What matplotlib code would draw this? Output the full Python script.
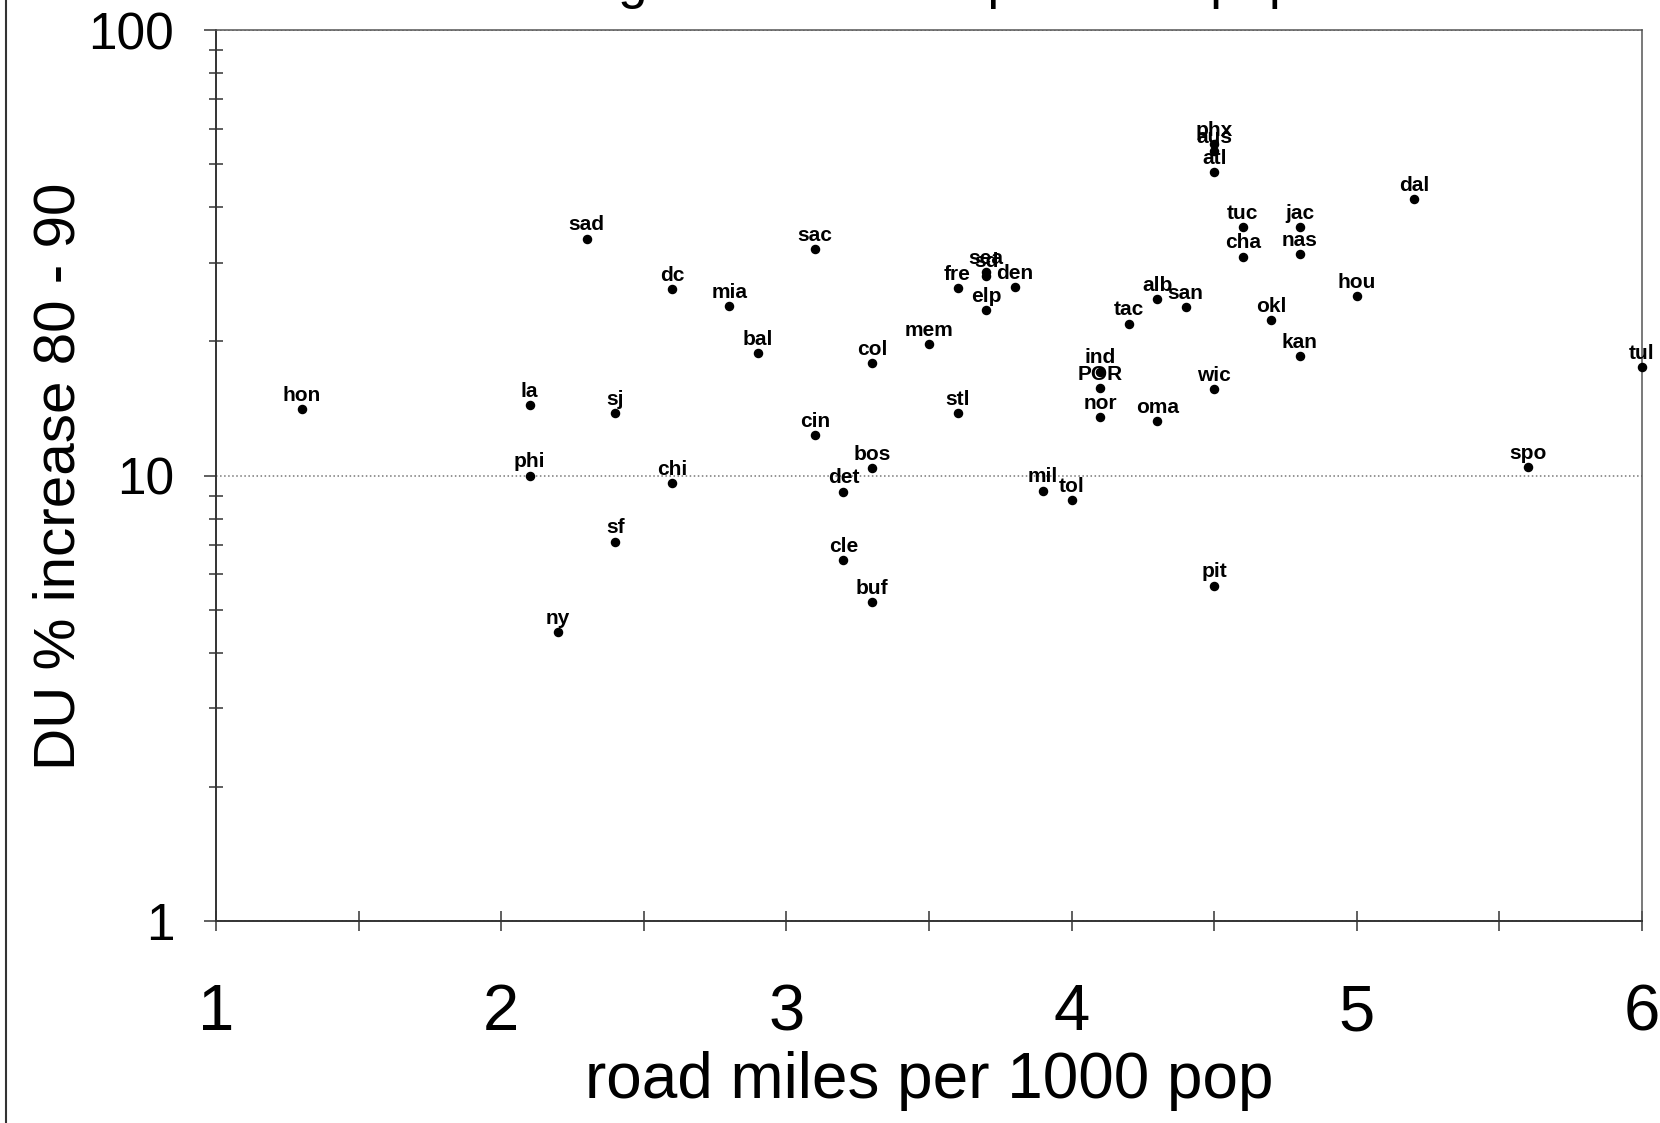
import matplotlib.pyplot as plt
from matplotlib.lines import Line2D
from matplotlib.ticker import FixedLocator, NullFormatter

####################################
# Dados

# Cidades (rotulos dos pontos)
cidades = ["hon", "la", "phi", "sj", "sf", "ny", "sad", "dc", "chi", "mia",
           "bal", "sac", "cin", "col", "bos", "det", "cle", "buf", "mem", "stl",
           "fre", "sea", "sd", "elp", "den", "mil", "tol", "ind", "POR", "nor",
           "oma", "wic", "tac", "alb", "san", "okl", "kan", "cha", "tuc", "jac",
           "nas", "phx", "aus", "atl", "dal", "hou", "tul", "spo", "pit"]

# Milhas de estrada por 1000 habitantes
milhas = [1.3, 2.1, 2.1, 2.4, 2.4, 2.2, 2.3, 2.6, 2.6, 2.8,
          2.9, 3.1, 3.1, 3.3, 3.3, 3.2, 3.2, 3.3, 3.5, 3.6,
          3.6, 3.7, 3.7, 3.7, 3.8, 3.9, 4.0, 4.1, 4.1, 4.1,
          4.3, 4.5, 4.2, 4.3, 4.4, 4.7, 4.8, 4.6, 4.6, 4.8,
          4.8, 4.5, 4.5, 4.5, 5.2, 5.0, 6.0, 5.6, 4.5]

# Aumento percentual de DU 80 - 90
aumento = [14.1, 14.4, 10.0, 13.8, 7.1, 4.45, 34.0, 26.2, 9.6, 24.0,
           18.8, 32.2, 12.3, 17.9, 10.4, 9.2, 6.45, 5.2, 19.7, 13.8,
           26.3, 28.6, 28.1, 23.5, 26.5, 9.25, 8.8, 17.1, 15.7, 13.5,
           13.25, 15.6, 21.9, 24.9, 23.9, 22.3, 18.5, 31.0, 36.1, 36.1,
           31.4, 55.5, 53.5, 48.0, 41.7, 25.3, 17.5, 10.45, 5.66]

# Eixos
xticks = [1, 2, 3, 4, 5, 6]
yticks = [1, 10, 100]

####################################
# Plotar o grafico

plt.rcParams["font.family"] = ["Liberation Sans", "DejaVu Sans"]

fig = plt.figure(figsize=(16.6, 11.23), dpi=100)
ax = fig.add_axes([216/1660, 1 - 921/1123, 1426/1660, 891/1123])

ax.scatter(milhas, aumento, s=34, c="black", zorder=3, clip_on=False)

for nome, x, y in zip(cidades, milhas, aumento):
    ax.annotate(nome, (x, y), xytext=(0, 6), textcoords="offset points",
                ha="center", va="baseline", fontsize=15, fontweight="bold",
                annotation_clip=False)

# Escalas
ax.set_yscale("log")
ax.set_xlim(1, 6)
ax.set_ylim(1, 100)

ax.xaxis.set_major_locator(FixedLocator(xticks))
ax.xaxis.set_minor_locator(FixedLocator([1.5, 2.5, 3.5, 4.5, 5.5]))
ax.set_xticklabels([str(t) for t in xticks])
ax.yaxis.set_major_locator(FixedLocator(yticks))
ax.set_yticklabels([str(t) for t in yticks])
ax.yaxis.set_minor_locator(FixedLocator([k * 10**d for d in (0, 1) for k in range(2, 10)]))
ax.yaxis.set_minor_formatter(NullFormatter())

ax.tick_params(axis="x", which="both", direction="inout", length=14, width=1.2,
               color="#444", labelsize=47, pad=38)
ax.tick_params(axis="y", which="major", direction="out", length=9, width=1.2,
               color="#444", labelsize=37, pad=21)
ax.tick_params(axis="y", which="minor", direction="inout", length=9.5, width=1.2,
               color="#444")

# Linha de grade em 10
ax.yaxis.grid(True, which="major", ls=":", color="#777", lw=1.1)
ax.set_axisbelow(True)

for lado in ["left", "bottom"]:
    ax.spines[lado].set_color("#333")
    ax.spines[lado].set_linewidth(1.4)
for lado in ["top", "right"]:
    ax.spines[lado].set_color("#555")
    ax.spines[lado].set_linewidth(1.1)

# Rotulos
fig.text(929/1660, 1 - 1081/1123, "road miles per 1000 pop", fontsize=46,
         ha="center", va="center")
fig.text(60/1660, 1 - 476/1123, "DU % increase 80 - 90", fontsize=42,
         rotation=90, ha="center", va="center")

# Titulo cortado no topo da pagina escaneada
fig.text(1298/1660, 1 + 2/1123, "DU housing vs road miles per 1000 pop",
         fontsize=38, ha="right", va="baseline")

# Borda da pagina a esquerda
fig.add_artist(Line2D([6/1660, 6/1660], [0, 1], color="#333", lw=1.5))

fig.savefig("out.png", dpi=100)
